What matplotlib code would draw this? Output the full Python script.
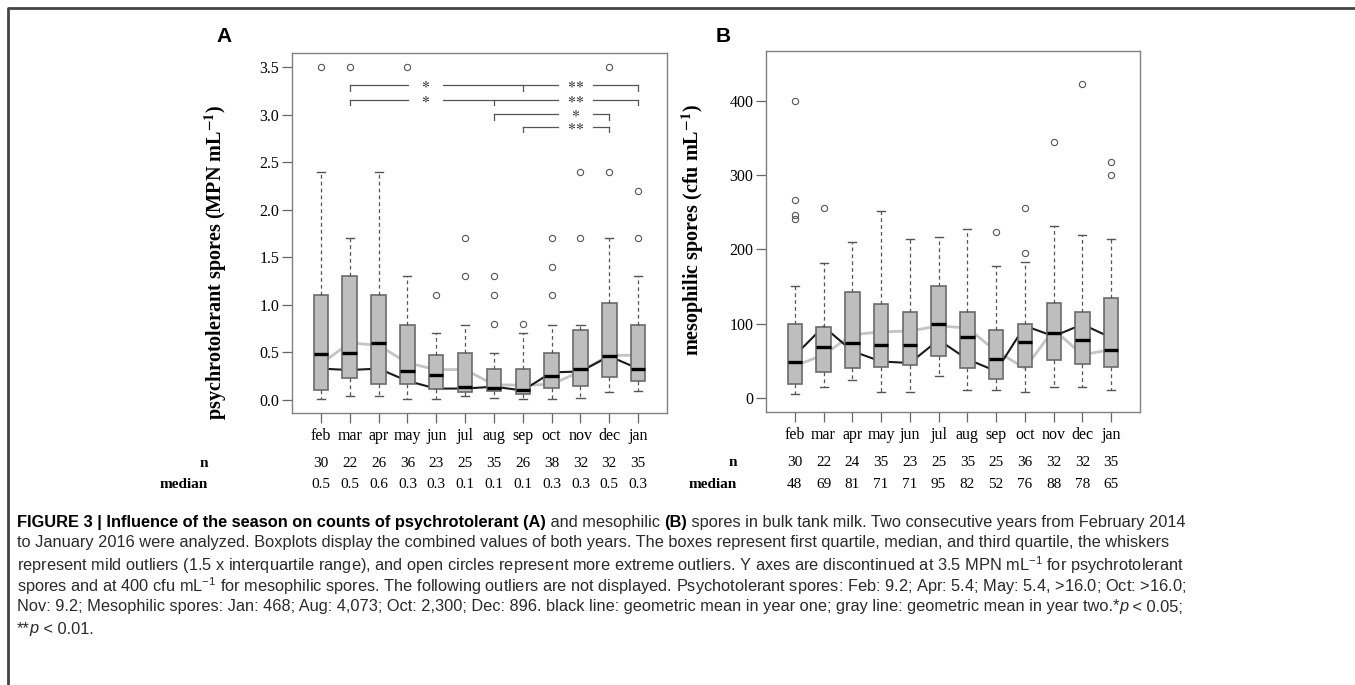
import matplotlib
matplotlib.use("Agg")
import matplotlib.pyplot as plt
from matplotlib.lines import Line2D

plt.rcParams["font.family"] = ["Liberation Serif", "DejaVu Serif"]
plt.rcParams["mathtext.fontset"] = "custom"
plt.rcParams["mathtext.rm"] = "Liberation Sans"
plt.rcParams["mathtext.it"] = "Liberation Sans:italic"
plt.rcParams["mathtext.bf"] = "Liberation Sans:bold"

MONTHS = ["feb", "mar", "apr", "may", "jun", "jul", "aug", "sep", "oct", "nov", "dec", "jan"]

# panel A - psychrotolerant spores (MPN mL-1)
PSY_WLO = [0.01, 0.045, 0.045, 0.01, 0.01, 0.045, 0.02, 0.01, 0.01, 0.02, 0.08, 0.09]
PSY_Q1 = [0.11, 0.235, 0.17, 0.17, 0.115, 0.08, 0.09, 0.065, 0.125, 0.15, 0.24, 0.20]
PSY_MED = [0.48, 0.49, 0.60, 0.30, 0.26, 0.14, 0.125, 0.10, 0.25, 0.33, 0.46, 0.33]
PSY_Q3 = [1.10, 1.30, 1.10, 0.79, 0.47, 0.49, 0.33, 0.33, 0.49, 0.74, 1.015, 0.79]
PSY_WHI = [2.4, 1.7, 2.4, 1.3, 0.70, 0.79, 0.49, 0.70, 0.79, 0.79, 1.7, 1.3]
PSY_FLIERS = [[3.5], [3.5], [], [3.5], [1.1], [1.3, 1.7], [0.8, 1.1, 1.3], [0.8],
              [1.1, 1.4, 1.7], [1.7, 2.4], [2.4, 3.5], [1.7, 2.2]]
PSY_YEAR1 = [0.33, 0.315, 0.33, 0.20, 0.12, 0.12, 0.14, 0.10, 0.29, 0.30, 0.46, 0.33]
PSY_YEAR2 = [0.38, 0.60, 0.575, 0.39, 0.32, 0.32, 0.16, 0.155, 0.165, 0.30, 0.47, 0.47]
PSY_N = [30, 22, 26, 36, 23, 25, 35, 26, 38, 32, 32, 35]
PSY_MEDIANS = ["0.5", "0.5", "0.6", "0.3", "0.3", "0.1", "0.1", "0.1", "0.3", "0.3", "0.5", "0.3"]

# significance brackets (month positions, 1 = feb)
SIG_Y = [3.31, 3.16, 3.005, 2.875]
SIG_TICKS = [[2, 8, 12], [2, 7, 12], [7, 11], [8, 11]]
SIG_LABELS = [["*", "**"], ["*", "**"], ["*"], ["**"]]
SIG_LABEL_X = [[4.63, 9.83], [4.63, 9.83], [9.83], [9.83]]

# panel B - mesophilic spores (cfu mL-1)
MES_WLO = [5, 15, 24, 8, 8, 29, 10, 10, 8, 15, 15, 10]
MES_Q1 = [19, 35, 40, 42, 44, 57, 40, 25, 42, 51, 46, 41]
MES_MED = [48, 69, 74, 71, 71, 100, 82, 52, 75.5, 88, 78, 65]
MES_Q3 = [100, 95, 142, 126, 115, 150, 116, 91, 100, 128, 116, 134]
MES_WHI = [150, 181, 210, 251, 214, 216, 227, 177, 183, 232, 219, 214]
MES_FLIERS = [[400, 267, 246, 241], [255], [], [], [], [], [], [223], [195, 255],
              [345], [423], [318, 300]]
MES_YEAR1 = [57, 96, 63, 49, 47, 78, 52, 36, 97, 83, 99, 81]
MES_YEAR2 = [43, 58, 85, 89, 90, 97, 94, 63, 40, 92, 58, 65]
MES_N = [30, 22, 24, 35, 23, 25, 35, 25, 36, 32, 32, 35]
MES_MEDIANS = ["48", "69", "81", "71", "71", "95", "82", "52", "76", "88", "78", "65"]

CAPTION = [
    [("FIGURE 3 | Influence of the season on counts of psychrotolerant (A)", "bold", "normal"),
     (" and mesophilic ", "normal", "normal"), ("(B)", "bold", "normal"),
     (" spores in bulk tank milk. Two consecutive years from February 2014", "normal", "normal")],
    [("to January 2016 were analyzed. Boxplots display the combined values of both years. "
      "The boxes represent first quartile, median, and third quartile, the whiskers", "normal", "normal")],
    [("represent mild outliers (1.5 x interquartile range), and open circles represent more extreme "
      "outliers. Y axes are discontinued at 3.5 MPN mL$^{-1}$ for psychrotolerant", "normal", "normal")],
    [("spores and at 400 cfu mL$^{-1}$ for mesophilic spores. The following outliers are not displayed. "
      "Psychotolerant spores: Feb: 9.2; Apr: 5.4; May: 5.4, >16.0; Oct: >16.0;", "normal", "normal")],
    [("Nov: 9.2; Mesophilic spores: Jan: 468; Aug: 4,073; Oct: 2,300; Dec: 896. black line: geometric "
      "mean in year one; gray line: geometric mean in year two.*", "normal", "normal"),
     ("p", "normal", "italic"), (" < 0.05;", "normal", "normal")],
    [("**", "normal", "normal"), ("p", "normal", "italic"), (" < 0.01.", "normal", "normal")],
]

W, H = 1355, 685


def draw_panel(ax, wlo, q1, med, q3, whi, fliers, year1, year2, n_vals, med_labels, ylim, yticks, ylabel, label_xy):
    """Draw one boxplot panel with the two geometric-mean lines and the n/median rows."""
    pos = list(range(1, len(MONTHS) + 1))
    stats = []
    for i in range(len(MONTHS)):
        stats.append({"whislo": wlo[i], "q1": q1[i], "med": med[i], "q3": q3[i],
                      "whishi": whi[i], "fliers": fliers[i]})

    ax.plot(pos, year2, color="#c4c4c4", lw=2.0, zorder=1)
    ax.plot(pos, year1, color="#1a1a1a", lw=1.5, zorder=1)

    ax.bxp(
        stats, positions=pos, widths=0.5, capwidths=0.28, patch_artist=True,
        boxprops=dict(facecolor="#bebebe", edgecolor="#6b6b6b", lw=1.2),
        medianprops=dict(color="black", lw=2.4),
        whiskerprops=dict(color="#555555", lw=0.9, linestyle=(0, (3, 2.5))),
        capprops=dict(color="#555555", lw=1.0),
        flierprops=dict(marker="o", markersize=4.5, markerfacecolor="none",
                        markeredgecolor="#555555", markeredgewidth=0.8),
        manage_ticks=False, zorder=2,
    )

    ax.set_xlim(0, 13)
    ax.set_ylim(*ylim)
    ax.set_xticks(pos)
    ax.set_xticklabels(MONTHS, fontsize=11)
    ax.set_yticks(yticks)
    ax.tick_params(axis="both", direction="out", length=7, width=0.9, color="#666666", labelsize=11.5)
    ax.tick_params(axis="x", pad=4)
    ax.tick_params(axis="y", pad=2)
    for sp in ax.spines.values():
        sp.set_color("#808080")
        sp.set_linewidth(1.0)

    ax.set_ylabel(ylabel, fontsize=14.5, fontweight="bold", math_fontfamily="stix")
    ax.yaxis.set_label_coords(*label_xy)

    tr = ax.get_xaxis_transform()
    for i, p in enumerate(pos):
        ax.text(p, -0.14, str(n_vals[i]), transform=tr, ha="center", va="center", fontsize=11)
        ax.text(p, -0.2, med_labels[i], transform=tr, ha="center", va="center", fontsize=11)


fig = plt.figure(figsize=(W / 100, H / 100), dpi=100)

ax_a = fig.add_axes([292 / W, 1 - 413 / H, 375 / W, 360 / H])
ax_b = fig.add_axes([766 / W, 1 - 412 / H, 374 / W, 361 / H])

draw_panel(ax_a, PSY_WLO, PSY_Q1, PSY_MED, PSY_Q3, PSY_WHI, PSY_FLIERS, PSY_YEAR1, PSY_YEAR2,
           PSY_N, PSY_MEDIANS, (-0.137, 3.65), [0, 0.5, 1.0, 1.5, 2.0, 2.5, 3.0, 3.5],
           r"psychrotolerant spores (MPN mL$^{\mathbf{-1}}$)", (-0.168, 0.42))
ax_a.set_yticklabels(["0.0", "0.5", "1.0", "1.5", "2.0", "2.5", "3.0", "3.5"])

draw_panel(ax_b, MES_WLO, MES_Q1, MES_MED, MES_Q3, MES_WHI, MES_FLIERS, MES_YEAR1, MES_YEAR2,
           MES_N, MES_MEDIANS, (-19, 467), [0, 100, 200, 300, 400],
           r"mesophilic spores (cfu mL$^{\mathbf{-1}}$)", (-0.16, 0.505))

# row labels under the axes
for ax, x in [(ax_a, -0.224), (ax_b, -0.078)]:
    ax.text(x, -0.14, "n", transform=ax.transAxes, ha="right", va="center", fontsize=11, fontweight="bold")
    ax.text(x, -0.2, "median", transform=ax.transAxes, ha="right", va="center", fontsize=11, fontweight="bold")

# significance brackets in panel A
gap = 0.6
drop = 0.055
for y, ticks, labels, lx in zip(SIG_Y, SIG_TICKS, SIG_LABELS, SIG_LABEL_X):
    x0, x1 = ticks[0], ticks[-1]
    edges = [x0]
    for c in lx:
        edges += [c - gap, c + gap]
    edges.append(x1)
    for k in range(0, len(edges), 2):
        ax_a.plot([edges[k], edges[k + 1]], [y, y], color="#555555", lw=0.9, zorder=3)
    for t in ticks:
        ax_a.plot([t, t], [y, y - drop], color="#555555", lw=0.9, zorder=3)
    for lab, c in zip(labels, lx):
        stars = r"$\ast\!\ast$" if lab == "**" else r"$\ast$"
        ax_a.text(c, y, stars, ha="center", va="center", fontsize=11, zorder=3, math_fontfamily="stix")

# panel letters
fig.text(224 / W, 1 - 36 / H, "A", family="Liberation Sans", fontweight="bold", fontsize=15, ha="center", va="center")
fig.text(723 / W, 1 - 36 / H, "B", family="Liberation Sans", fontweight="bold", fontsize=15, ha="center", va="center")

# frame around the figure (left and top edges visible)
fig.add_artist(Line2D([8 / W, 8 / W, 1.0], [0.0, 1 - 8 / H, 1 - 8 / H], transform=fig.transFigure,
                      color="#444444", lw=2.0))

# caption with mixed bold / italic runs
renderer = fig.canvas.get_renderer()


def run_width(s, weight, style, size):
    """Width in pixels of a text run, trailing spaces included."""
    t1 = fig.text(0, 0, s + "|", family="Liberation Sans", fontweight=weight, fontstyle=style, fontsize=size)
    t2 = fig.text(0, 0, "|", family="Liberation Sans", fontweight=weight, fontstyle=style, fontsize=size)
    w = t1.get_window_extent(renderer).width - t2.get_window_extent(renderer).width
    t1.remove()
    t2.remove()
    return w


cap_size = 11.8
line_y = [522, 543, 565, 586, 607, 629]
for runs, ypix in zip(CAPTION, line_y):
    x = 17
    for s, weight, style in runs:
        fig.text(x / W, 1 - ypix / H, s, family="Liberation Sans", fontweight=weight, fontstyle=style,
                 fontsize=cap_size, ha="left", va="center",
                 color="black" if weight == "bold" else "#2a2a2a", math_fontfamily="custom")
        x += run_width(s, weight, style, cap_size)

fig.savefig("out.png", dpi=100)
